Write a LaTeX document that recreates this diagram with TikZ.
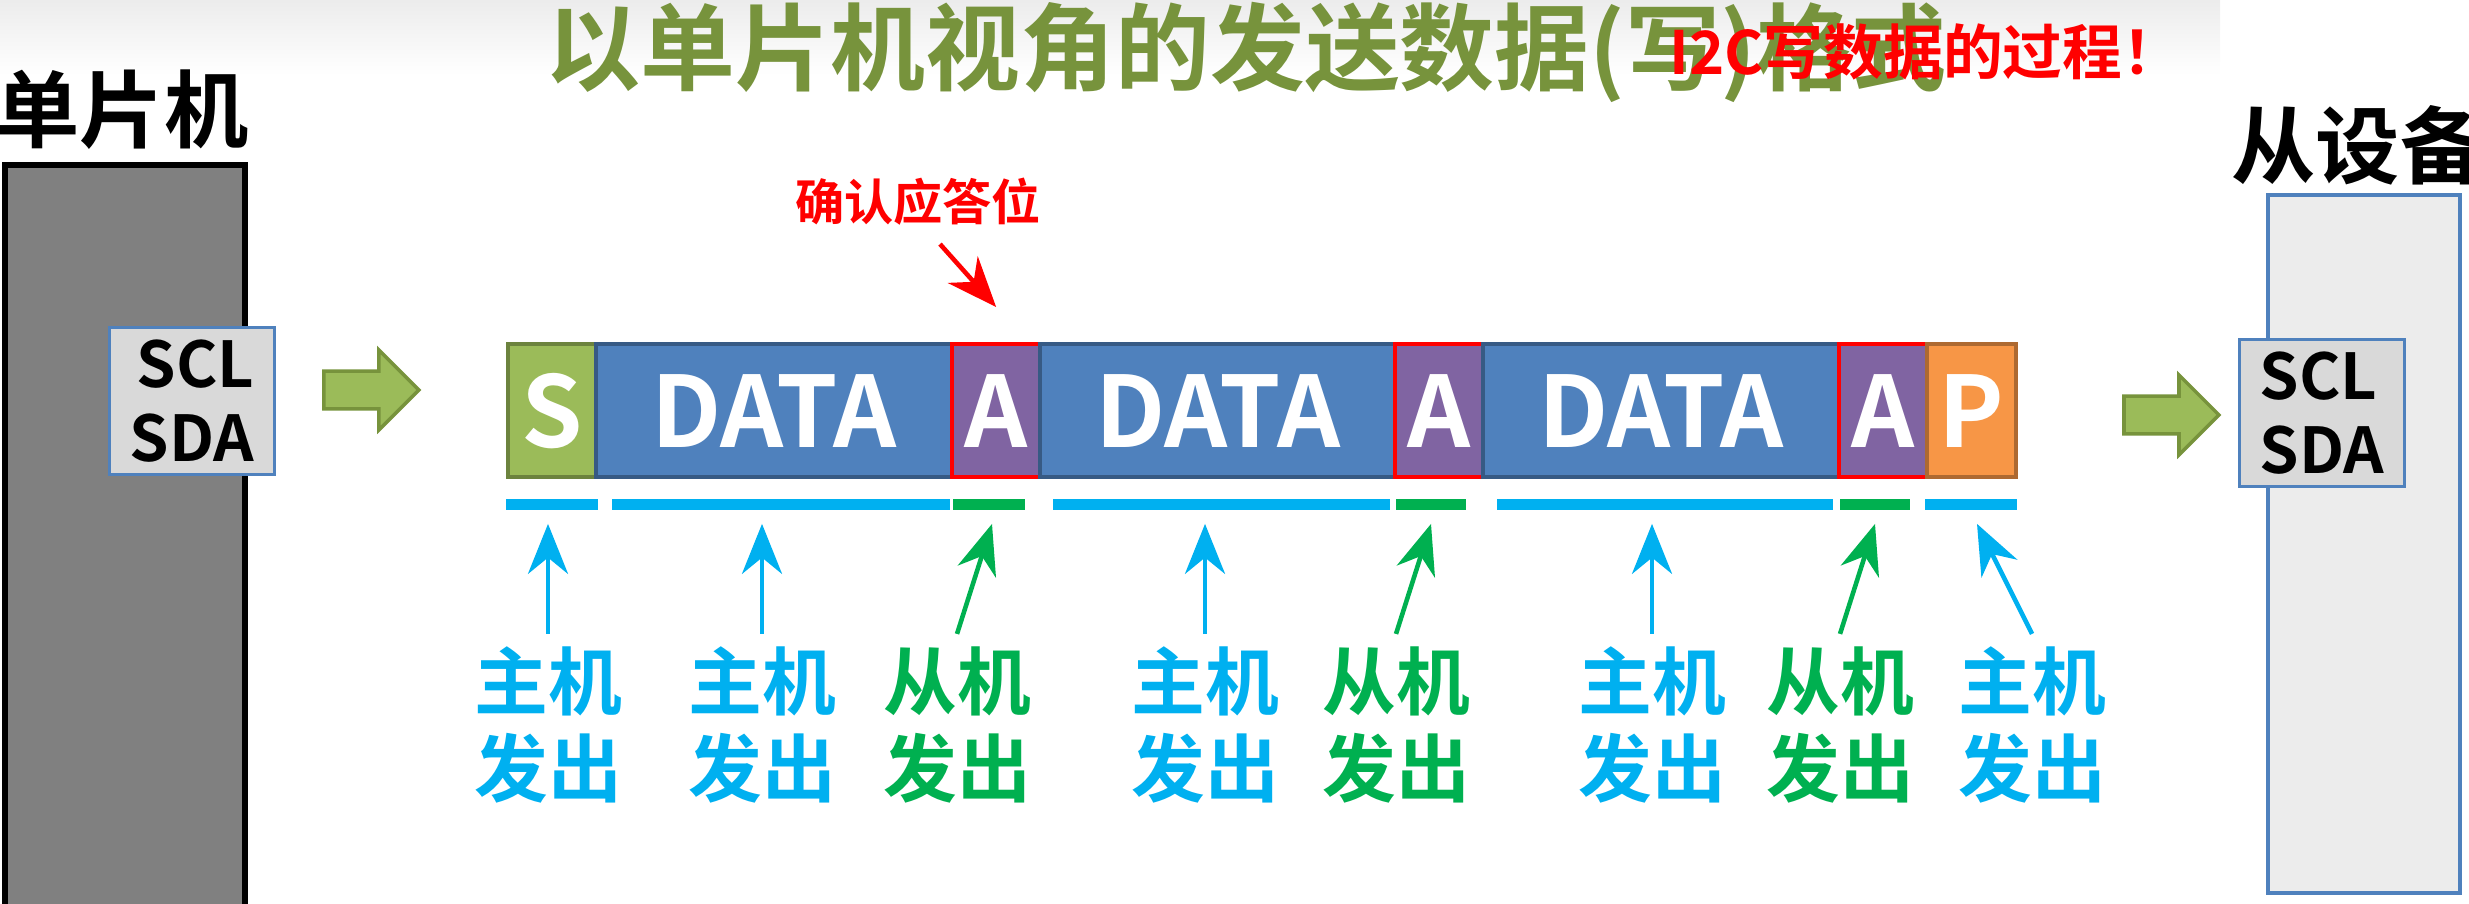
\documentclass[tikz,border=0pt]{standalone}
\usepackage{fontspec}
\setmainfont{Noto Sans CJK SC Bold}
\usetikzlibrary{positioning,arrows.meta,shapes.arrows,calc}
\definecolor{olive}{HTML}{77933C}
\definecolor{sgreen}{HTML}{9BBB59}
\definecolor{dblue}{HTML}{4F81BD}
\definecolor{apurple}{HTML}{8064A2}
\definecolor{porange}{HTML}{F79646}
\definecolor{cyanb}{HTML}{00B0F0}
\definecolor{greenb}{HTML}{00B050}
\definecolor{redt}{HTML}{FF0000}
\begin{document}
\begin{tikzpicture}
[x=0.1mm, y=-0.1mm,
field/.style={draw=#1!70!black, line width=1.2pt, anchor=north west, inner sep=0pt, minimum height=13.3mm, text=white, font=\fontsize{28}{28}\selectfont},
bar/.style={line width=1.1mm, #1},
who/.style={font=\fontsize{21}{25}\selectfont, align=center, text=#1},
up/.style={-{Stealth[length=5mm, width=4mm]}, line width=1.3pt, #1},
pin/.style={draw=dblue, fill=gray!30, line width=1pt, minimum width=16.5mm, minimum height=14.7mm, align=right, font=\fontsize{18}{21}\selectfont},
bigarrow/.style={single arrow, draw=olive, fill=sgreen, line width=1pt, minimum width=8mm, single arrow head extend=1.5mm, minimum height=9.5mm}
]
\useasboundingbox (0,0) rectangle (2469,904);
\shade[top color=gray!15, bottom color=white] (0,0) rectangle (2220,75);
% title
\node (title) at (1246,52) [text=olive, font=\fontsize{27}{30}\selectfont] {以单片机视角的发送数据(写)格式};
\node (note) at (1926,52) [text=redt, font=\fontsize{17}{20}\selectfont] {I2C写数据的过程！};
% devices
\node (mcu-t) at (122,110) [font=\fontsize{24}{26}\selectfont] {单片机};
\draw[fill=gray!100!white, line width=1.5pt] (5,165) rectangle (245,910);
\node (mcu-p) at (192,401) [pin] {SCL\\SDA};
\node (dev-t) at (2358,145) [font=\fontsize{24}{26}\selectfont] {从设备};
\draw[fill=gray!15, draw=dblue, line width=1.2pt] (2268,195) rectangle (2460,893);
\node (dev-p) at (2322,413) [pin, align=left] {SCL\\SDA};
\node (arr-l) at (362,390) [bigarrow] {};
\node (arr-r) at (2162,415) [bigarrow] {};
% frame fields
\node (f-s)  at (506,342)  [field=sgreen,  fill=sgreen,  minimum width=8.8mm]  {S};
\node (f-d1) at (594,342)  [field=dblue,   fill=dblue,   minimum width=35.6mm] {DATA};
\node (f-a1) at (950,342)  [field=apurple, fill=apurple, minimum width=8.8mm, draw=redt]  {A};
\node (f-d2) at (1038,342) [field=dblue,   fill=dblue,   minimum width=35.5mm] {DATA};
\node (f-a2) at (1393,342) [field=apurple, fill=apurple, minimum width=8.8mm, draw=redt]  {A};
\node (f-d3) at (1481,342) [field=dblue,   fill=dblue,   minimum width=35.6mm] {DATA};
\node (f-a3) at (1837,342) [field=apurple, fill=apurple, minimum width=8.8mm, draw=redt]  {A};
\node (f-p)  at (1925,342) [field=porange, fill=porange, minimum width=8.9mm]  {P};
% ack label
\node (ack) at (918,202) [text=redt, font=\fontsize{14}{16}\selectfont] {确认应答位};
\draw[up=redt] ($(ack.south)+(22,6)$) -- ($(f-a1.north)+(0,-35)$);
% bars
\draw[bar=cyanb]  (506,505)  -- (598,505);
\draw[bar=cyanb]  (612,505)  -- (950,505);
\draw[bar=greenb] (953,505)  -- (1025,505);
\draw[bar=cyanb]  (1053,505) -- (1390,505);
\draw[bar=greenb] (1396,505) -- (1466,505);
\draw[bar=cyanb]  (1497,505) -- (1833,505);
\draw[bar=greenb] (1840,505) -- (1910,505);
\draw[bar=cyanb]  (1925,505) -- (2017,505);
% who sends
\node (w-s)  at (548,725)  [who=cyanb]  {主机\\发出};
\node (w-d1) at (762,725)  [who=cyanb]  {主机\\发出};
\node (w-a1) at (957,725)  [who=greenb] {从机\\发出};
\node (w-d2) at (1205,725) [who=cyanb]  {主机\\发出};
\node (w-a2) at (1396,725) [who=greenb] {从机\\发出};
\node (w-d3) at (1652,725) [who=cyanb]  {主机\\发出};
\node (w-a3) at (1840,725) [who=greenb] {从机\\发出};
\node (w-p)  at (2032,725) [who=cyanb]  {主机\\发出};
\draw[up=cyanb]  (w-s.north)  -- ++(0,-110);
\draw[up=cyanb]  (w-d1.north) -- ++(0,-110);
\draw[up=greenb] (w-a1.north) -- ++(35,-110);
\draw[up=cyanb]  (w-d2.north) -- ++(0,-110);
\draw[up=greenb] (w-a2.north) -- ++(35,-110);
\draw[up=cyanb]  (w-d3.north) -- ++(0,-110);
\draw[up=greenb] (w-a3.north) -- ++(35,-110);
\draw[up=cyanb]  (w-p.north)  -- ++(-55,-110);
\end{tikzpicture}
\end{document}
